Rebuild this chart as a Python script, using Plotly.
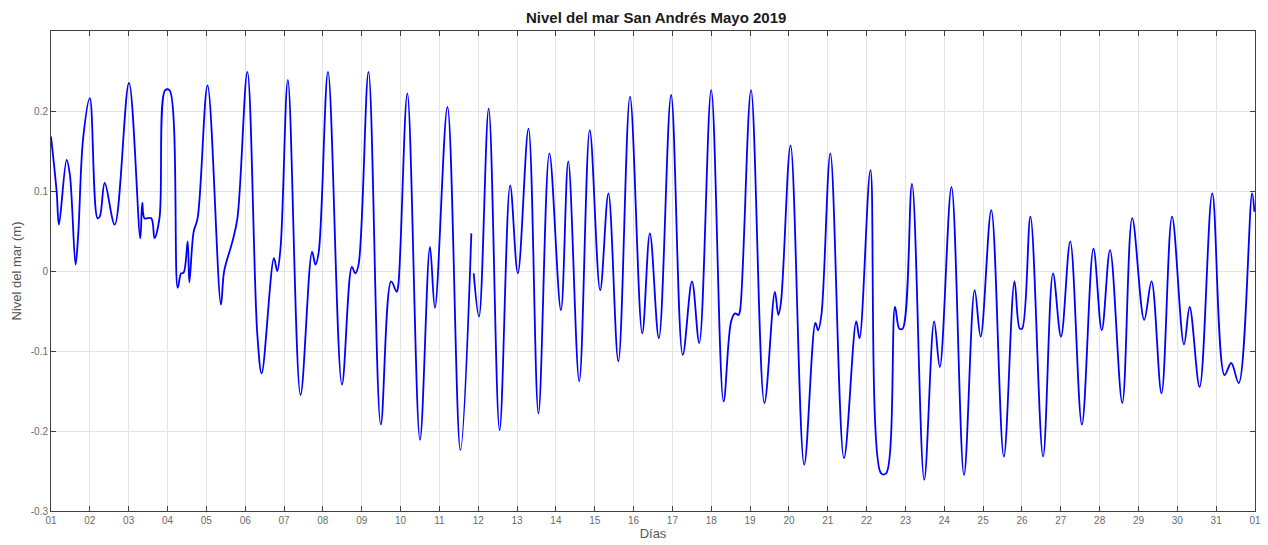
import pandas as pd
import plotly.graph_objects as go

# Sea-level turning points, San Andrés, May 2019
# t_days: days elapsed since 2019-05-01 00:00 ; level_m: sea level (m)
t_days = [
    0.000, 0.146, 0.205, 0.402, 0.487, 0.633, 0.700, 0.828, 1.000, 1.197,
    1.256, 1.384, 1.640, 2.007, 2.299, 2.350, 2.409, 2.581, 2.665, 2.793,
    2.940, 3.050, 3.262, 3.350, 3.416, 3.519, 3.562, 3.672, 3.775, 4.031,
    4.375, 4.459, 4.672, 4.800, 5.056, 5.313, 5.425, 5.741, 5.825, 5.912,
    6.099, 6.425, 6.722, 6.809, 6.894, 7.132, 7.491, 7.747, 7.834, 7.919,
    8.175, 8.491, 8.757, 8.901, 8.944, 9.175, 9.500, 9.757, 9.885, 10.208,
    10.541, 10.823, 10.850, 10.884, 11.020, 11.269, 11.550, 11.822, 12.020, 12.294,
    12.550, 12.832, 13.129, 13.319, 13.601, 13.872, 14.139, 14.352, 14.608, 14.908,
    15.223, 15.420, 15.651, 15.966, 16.266, 16.504, 16.691, 16.999, 17.317, 17.511,
    17.614, 17.700, 17.740, 18.024, 18.368, 18.639, 18.726, 18.793, 19.042, 19.393,
    19.682, 19.751, 19.836, 20.067, 20.418, 20.733, 20.818, 21.099, 21.374, 21.502,
    21.732, 21.842, 21.929, 22.168, 22.483, 22.739, 22.885, 23.185, 23.508, 23.782,
    23.936, 24.210, 24.533, 24.808, 24.943, 25.005, 25.218, 25.543, 25.799, 26.005,
    26.243, 26.543, 26.840, 27.055, 27.268, 27.583, 27.839, 28.147, 28.336, 28.593,
    28.864, 29.172, 29.318, 29.574, 29.900, 30.215, 30.387, 30.582, 30.925, 30.984,
]
level_m = [
    0.168, 0.099, 0.058, 0.139, 0.120, 0.008, 0.045, 0.166, 0.216, 0.066,
    0.068, 0.110, 0.058, 0.235, 0.041, 0.085, 0.066, 0.066, 0.041, 0.066,
    0.226, 0.226, -0.021, -0.003, -0.002, 0.037, -0.014, 0.049, 0.066, 0.232,
    -0.042, 0.000, 0.037, 0.066, 0.249, -0.080, -0.128, 0.016, 0.000, 0.030,
    0.239, -0.155, 0.024, 0.008, 0.024, 0.249, -0.142, 0.005, -0.003, 0.008,
    0.249, -0.192, -0.013, -0.026, -0.017, 0.222, -0.211, 0.030, -0.046, 0.205,
    -0.224, 0.047, None, -0.003, -0.057, 0.203, -0.199, 0.107, -0.003, 0.178,
    -0.178, 0.147, -0.049, 0.137, -0.138, 0.176, -0.024, 0.097, -0.113, 0.218,
    -0.078, 0.047, -0.084, 0.220, -0.105, -0.013, -0.090, 0.226, -0.163, -0.063,
    -0.053, -0.055, -0.050, 0.226, -0.165, -0.026, -0.055, -0.040, 0.157, -0.242,
    -0.065, -0.074, -0.055, 0.147, -0.234, -0.063, -0.084, 0.126, -0.253, -0.253,
    -0.045, -0.072, -0.072, 0.109, -0.261, -0.063, -0.120, 0.105, -0.255, -0.024,
    -0.082, 0.076, -0.232, -0.013, -0.072, -0.072, 0.068, -0.232, -0.003, -0.082,
    0.037, -0.192, 0.028, -0.074, 0.026, -0.165, 0.066, -0.061, -0.013, -0.153,
    0.068, -0.092, -0.045, -0.145, 0.097, -0.130, -0.115, -0.140, 0.097, 0.074,
]

y_ticks = [-0.3, -0.2, -0.1, 0.0, 0.1, 0.2]
y_tick_text = ["-0.3", "-0.2", "-0.1", "0", "0.1", "0.2"]

start = pd.Timestamp("2019-05-01")
end = pd.Timestamp("2019-06-01")
times = start + pd.to_timedelta(t_days, unit="D")

fig = go.Figure()
fig.add_trace(go.Scatter(
    x=times, y=level_m, mode="lines",
    line=dict(color="rgb(0,0,255)", width=1.8, shape="spline", smoothing=1.0),
    connectgaps=False, showlegend=False,
))

axis_font = dict(family="Liberation Sans, Arial, sans-serif", size=10, color="#6b6b6b")
fig.update_layout(
    width=1268, height=545,
    paper_bgcolor="white", plot_bgcolor="white",
    margin=dict(l=51, r=7, t=31, b=34),
    title=dict(
        text="<b>Nivel del mar San Andrés Mayo 2019</b>",
        x=0.5175, xanchor="center", y=0.968, yanchor="middle",
        font=dict(family="Liberation Sans, Arial, sans-serif", size=15, color="#1a1a1a"),
    ),
    font=dict(family="Liberation Sans, Arial, sans-serif"),
)
fig.update_xaxes(
    range=[start, end], type="date",
    tickformat="%d", dtick=86400000, tick0=start,
    ticks="inside", ticklen=5, tickcolor="#404040",
    showline=True, linecolor="#404040", linewidth=1, mirror="ticks",
    showgrid=True, gridcolor="#e3e3e3", gridwidth=1,
    tickfont=axis_font,
    title=dict(text="Días", font=dict(family="Liberation Sans, Arial, sans-serif", size=13, color="#555555"), standoff=2),
    zeroline=False,
)
fig.update_yaxes(
    range=[-0.3, 0.3],
    tickvals=y_ticks, ticktext=y_tick_text,
    ticks="inside", ticklen=5, tickcolor="#404040",
    showline=True, linecolor="#404040", linewidth=1, mirror="ticks",
    showgrid=True, gridcolor="#e3e3e3", gridwidth=1,
    tickfont=axis_font,
    title=dict(text="Nivel del mar (m)", font=dict(family="Liberation Sans, Arial, sans-serif", size=13, color="#555555"), standoff=6),
    zeroline=False,
)

fig.write_html("out.html")
